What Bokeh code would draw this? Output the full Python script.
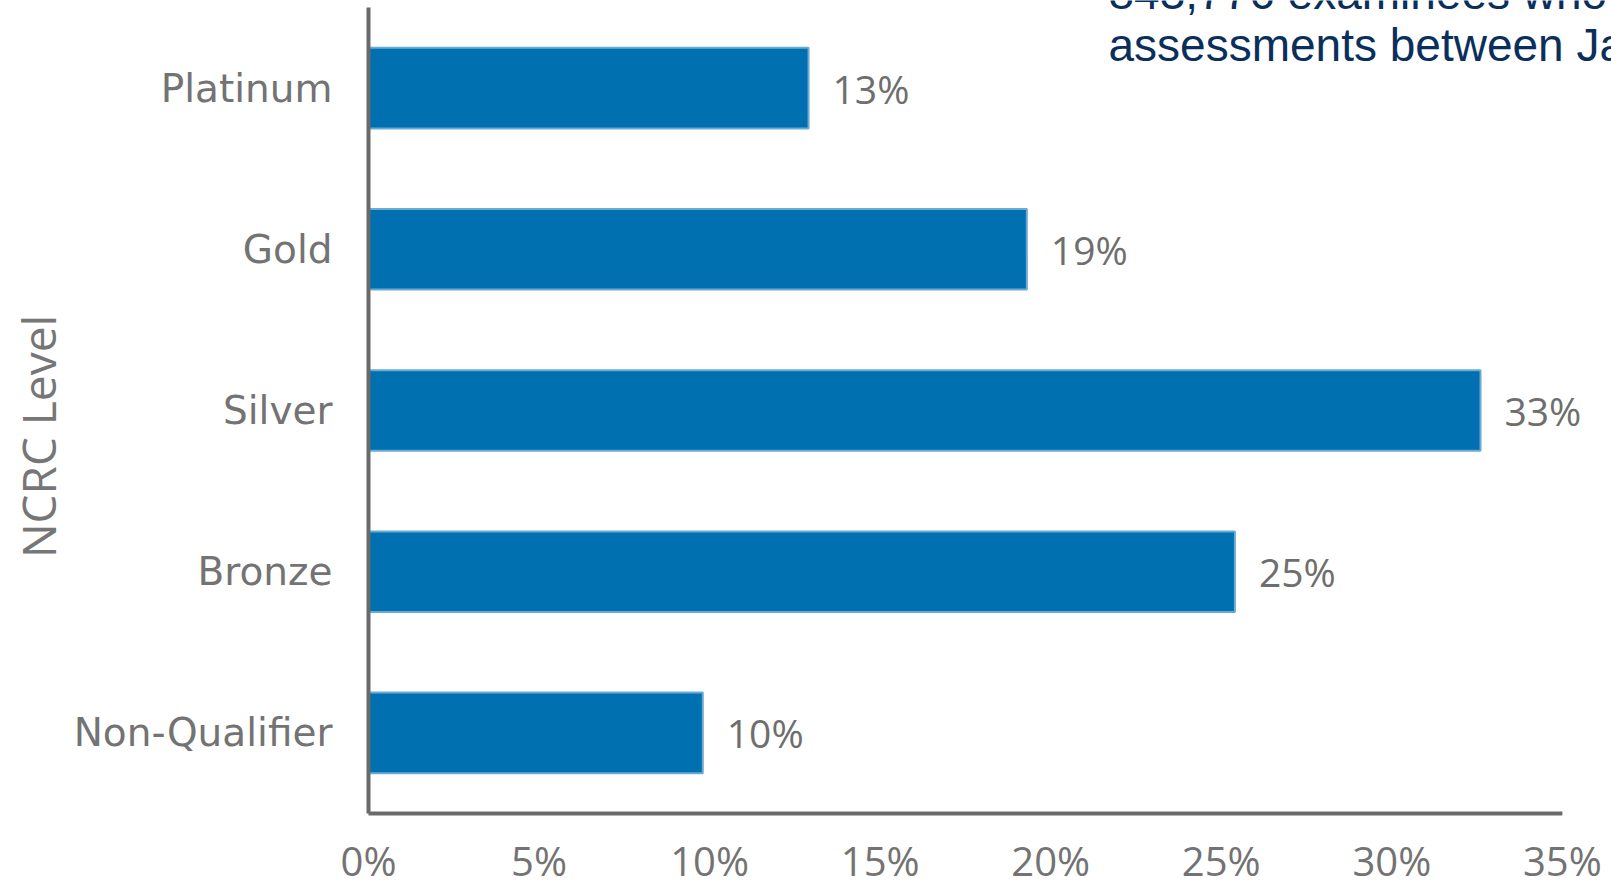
import math
from bokeh.plotting import figure
from bokeh.models import ColumnDataSource, Range1d
from bokeh.core.properties import value
from bokeh.embed import file_html
from bokeh.resources import INLINE

categories = ["Platinum", "Gold", "Silver", "Bronze", "Non-Qualifier"]
shares = [0.129, 0.193, 0.326, 0.254, 0.098]
share_labels = ["13%", "19%", "33%", "25%", "10%"]
x_ticks = [0.0, 0.05, 0.10, 0.15, 0.20, 0.25, 0.30, 0.35]
x_tick_labels = ["0%", "5%", "10%", "15%", "20%", "25%", "30%", "35%"]
axis_title = "NCRC Level"
note_lines = ["843,776 examinees who took", "assessments between January"]

# ---- layout (pixels of the 1611 x 880 canvas) ----
W, H = 1611, 880
AX_X = 368      # pixel column of the value 0
AX_Y = 813      # pixel row of the category baseline
TOP = 7         # pixel row of the top of the category band
X_END = 0.3644  # value at the right edge of the canvas
n = len(categories)

ppx = (W - AX_X) / X_END          # pixels per unit of x
ppy = (AX_Y - TOP) / n            # pixels per category band

def xv(px):
    return (px - AX_X) / ppx

def yv(py):
    return (AX_Y - py) / ppy

ypos = [n - i - 0.5 for i in range(n)]   # category band centres, first at top

p = figure(
    width=W, height=H,
    x_range=Range1d(xv(0), xv(W)), y_range=Range1d(yv(H), yv(0)),
    output_backend="svg", toolbar_location=None,
    x_axis_location=None, y_axis_location=None,
    min_border_left=0, min_border_right=0, min_border_top=0, min_border_bottom=0,
)
p.outline_line_color = None
p.xgrid.visible = False
p.ygrid.visible = False
p.background_fill_color = "white"
p.border_fill_color = "white"

gray = "#737373"
axis_color = "#6a6a6a"

src = ColumnDataSource(dict(y=ypos, cat=categories, share=shares, lab=share_labels))

p.hbar(y="y", left=0, right="share", height=0.5, source=src,
       fill_color="#0070b0", line_color="#6aaad3", line_width=2)

p.text(x="share", y="y", text="lab", source=src, x_offset=24,
       text_baseline="middle", text_align="left",
       text_font=value("Open Sans"), text_font_size="39px", text_color="#6e6e6e")

# axis lines
p.segment(x0=[0, 0], y0=[0, 0], x1=[0, x_ticks[-1]], y1=[n, 0],
          line_color=axis_color, line_width=4)

# category labels
p.text(x=0, y="y", text="cat", source=src, x_offset=-36,
       text_baseline="middle", text_align="right",
       text_font=value("DejaVu Sans"), text_font_size="39px", text_color=gray)

# value tick labels
tick_src = ColumnDataSource(dict(x=x_ticks, lab=x_tick_labels))
p.text(x="x", y=yv(860), text="lab", source=tick_src,
       text_baseline="middle", text_align="center",
       text_font=value("Open Sans"), text_font_size="40px", text_color=gray)

# axis title
p.text(x=[xv(37)], y=[yv(436)], text=[axis_title], angle=math.pi / 2,
       text_baseline="middle", text_align="center",
       text_font=value("Open Sans"), text_font_size="46px", text_color="#767676")

# note text at the top right
p.text(x=[xv(1108)] * 2, y=[yv(-8), yv(44)], text=note_lines,
       text_baseline="alphabetic", text_align="left",
       text_font=value("Liberation Sans"), text_font_size="46px", text_color="#0a2f5c")

open("out.html", "w").write(file_html(p, INLINE))
